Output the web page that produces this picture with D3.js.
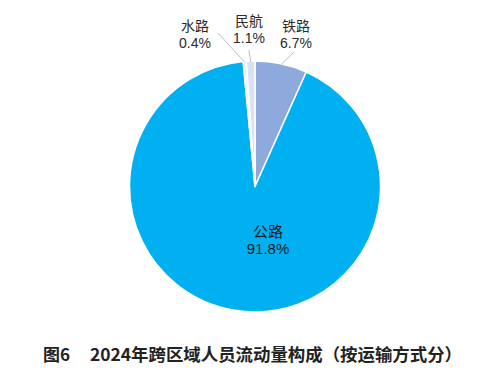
<!DOCTYPE html>
<html><head><meta charset="utf-8">
<script src="https://cdn.jsdelivr.net/npm/d3@7"></script>
<style>html,body{margin:0;padding:0;background:#fff;}svg{display:block;}</style>
</head><body>
<svg id="chart" width="503" height="370"></svg>
<script>
const categories = ["铁路", "公路", "水路", "民航"];
const values = [6.7, 91.8, 0.4, 1.1];
const valueLabels = ["6.7%", "91.8%", "0.4%", "1.1%"];
const title = "图6";
const titleRest = "2024年跨区域人员流动量构成（按运输方式分）";

const colors = ["#8eaadc", "#00b0f0", "#eef2f8", "#d9e2f3"];
const cx = 255, cy = 186.5, r = 125.5;
const svg = d3.select("#chart");
const g = svg.append("g").attr("transform", `translate(${cx},${cy})`);

const pie = d3.pie().sort(null).value(d => d)(values);
const arc = d3.arc().innerRadius(0).outerRadius(r);

g.selectAll("path.slice").data(pie).enter().append("path")
  .attr("class", "slice")
  .attr("d", arc)
  .attr("fill", (d, i) => colors[i])
  .attr("stroke", "#fff")
  .attr("stroke-width", 1.5)
  .attr("stroke-linejoin", "round");

const cjk = "'Noto Sans CJK SC', sans-serif";
const lat = "'Liberation Sans', Arial, sans-serif";

const layout = {
  "铁路": {x: 296, y: 31, lx: 294, ly: 52},
  "水路": {x: 195, y: 31, lx: 218, ly: 33},
  "民航": {x: 249, y: 26, lx: 249, ly: 50}
};
const outer = d3.arc().innerRadius(r - 1).outerRadius(r - 1);
pie.forEach((d, i) => {
  const name = categories[i];
  if (name === "公路") {
    const t = svg.append("text").attr("text-anchor", "middle").attr("fill", "#1a1a1a");
    t.append("tspan").attr("x", 268).attr("y", 237).attr("font-family", cjk).attr("font-size", 15).text(name);
    t.append("tspan").attr("x", 268).attr("y", 254).attr("font-family", lat).attr("font-size", 15).text(valueLabels[i]);
    return;
  }
  const L = layout[name];
  const p = outer.centroid(d);
  svg.append("line")
    .attr("x1", L.lx).attr("y1", L.ly)
    .attr("x2", cx + p[0]).attr("y2", cy + p[1])
    .attr("stroke", "#bfbfbf").attr("stroke-width", 1);
  const t = svg.append("text").attr("text-anchor", "middle").attr("fill", "#2a2a2a");
  t.append("tspan").attr("x", L.x).attr("y", L.y).attr("font-family", cjk).attr("font-size", 14).text(name);
  t.append("tspan").attr("x", L.x).attr("y", L.y + 17).attr("font-family", lat).attr("font-size", 14).text(valueLabels[i]);
});

svg.append("text").attr("x", 43).attr("y", 361)
  .attr("font-family", cjk).attr("font-size", 17).attr("font-weight", "bold").attr("fill", "#222")
  .text(title);
svg.append("text").attr("x", 90).attr("y", 361)
  .attr("font-family", cjk).attr("font-size", 17).attr("font-weight", "bold").attr("fill", "#222")
  .attr("textLength", 372).attr("lengthAdjust", "spacingAndGlyphs")
  .text(titleRest);
</script>
</body></html>
